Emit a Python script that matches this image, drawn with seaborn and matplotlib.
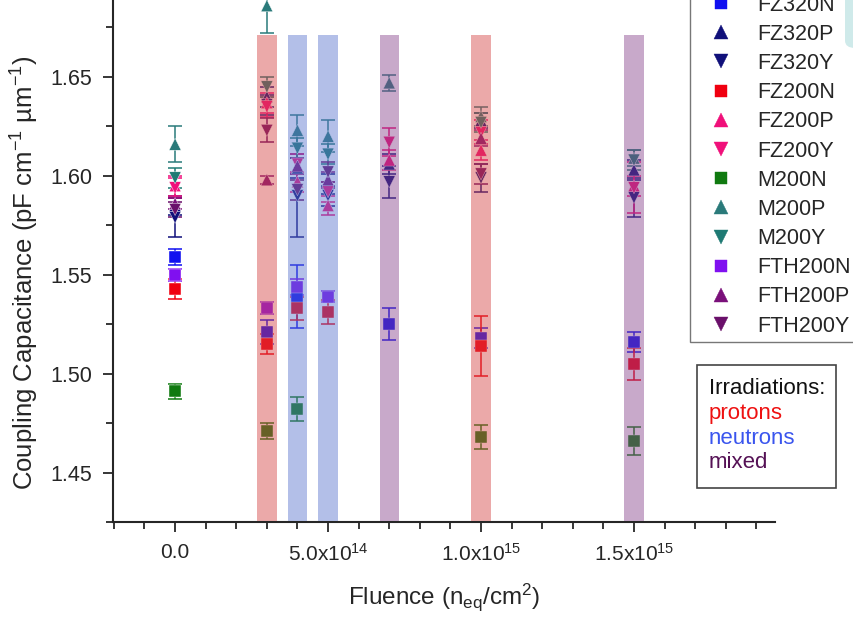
import numpy as np
import pandas as pd
import matplotlib
matplotlib.use("Agg")
import matplotlib.pyplot as plt
from matplotlib.lines import Line2D
from matplotlib.patches import FancyBboxPatch, Rectangle
import seaborn as sns

# ---------------- data ----------------
fluence = [0.0, 3e14, 4e14, 5e14, 7e14, 1e15, 1.5e15]
nan = np.nan

FZ320N = [1.559, 1.521, 1.539, nan, 1.525, 1.518, 1.516]
FZ320P = [1.585, 1.640, 1.604, 1.596, 1.606, 1.628, 1.603]
FZ320Y = [1.579, 1.636, 1.590, 1.590, 1.597, 1.599, 1.589]
FZ200N = [1.543, 1.515, 1.533, 1.531, nan, 1.514, 1.505]
FZ200P = [1.595, 1.637, 1.597, 1.585, 1.608, 1.613, 1.595]
FZ200Y = [1.594, 1.635, 1.606, 1.592, 1.617, 1.622, 1.594]
M200N = [1.491, 1.471, 1.482, nan, nan, 1.468, 1.466]
M200P = [1.616, 1.686, 1.623, 1.620, 1.647, 1.630, 1.609]
M200Y = [1.599, 1.645, 1.614, 1.611, nan, 1.627, 1.608]
FTH200N = [1.550, 1.533, 1.544, 1.539, nan, nan, nan]
FTH200P = [1.586, 1.598, 1.605, 1.598, nan, 1.619, nan]
FTH200Y = [1.583, 1.623, 1.593, 1.602, nan, 1.601, nan]

FZ320N_err = [0.004, 0.006, 0.016, nan, 0.008, 0.005, 0.005]
FZ320P_err = [0.005, 0.005, 0.005, 0.005, 0.005, 0.004, 0.005]
FZ320Y_err = [0.010, 0.005, 0.021, 0.005, 0.008, 0.007, 0.010]
FZ200N_err = [0.005, 0.005, 0.006, 0.006, nan, 0.015, 0.008]
FZ200P_err = [0.005, 0.005, 0.005, 0.005, 0.005, 0.005, 0.005]
FZ200Y_err = [0.005, 0.005, 0.005, 0.005, 0.007, 0.006, 0.013]
M200N_err = [0.004, 0.004, 0.006, nan, nan, 0.006, 0.007]
M200P_err = [0.009, 0.014, 0.008, 0.008, 0.004, 0.005, 0.004]
M200Y_err = [0.005, 0.005, 0.005, 0.005, nan, 0.005, 0.005]
FTH200N_err = [0.003, 0.003, 0.004, 0.003, nan, nan, nan]
FTH200P_err = [0.003, 0.002, 0.004, 0.004, nan, 0.004, nan]
FTH200Y_err = [0.004, 0.006, 0.005, 0.005, nan, 0.005, nan]

samples = ["FZ320N", "FZ320P", "FZ320Y", "FZ200N", "FZ200P", "FZ200Y",
           "M200N", "M200P", "M200Y", "FTH200N", "FTH200P", "FTH200Y"]
values = [FZ320N, FZ320P, FZ320Y, FZ200N, FZ200P, FZ200Y,
          M200N, M200P, M200Y, FTH200N, FTH200P, FTH200Y]
errors = [FZ320N_err, FZ320P_err, FZ320Y_err, FZ200N_err, FZ200P_err, FZ200Y_err,
          M200N_err, M200P_err, M200Y_err, FTH200N_err, FTH200P_err, FTH200Y_err]
colors = ["#1010f0", "#10107a", "#10107a", "#f00010", "#f0107a", "#f0107a",
          "#107a10", "#2a7a7a", "#1f7a74", "#8010f0", "#7a107a", "#6a106a"]
markers = ["s", "^", "v", "s", "^", "v", "s", "^", "v", "s", "^", "v"]

band_fluence = [3e14, 4e14, 5e14, 7e14, 1e15, 1.5e15]
band_type = ["protons", "neutrons", "neutrons", "mixed", "protons", "mixed"]
band_top = 1.671
band_colors = {"protons": "#d34242", "neutrons": "#5873cc", "mixed": "#85428b"}
irr_colors = {"protons": "#ee1111", "neutrons": "#3a55ee", "mixed": "#551155"}

x_ticks = [0.0, 5e14, 1e15, 1.5e15]
x_ticklabels = ["0.0", "5.0x10$^{14}$", "1.0x10$^{15}$", "1.5x10$^{15}$"]
y_ticks = [1.45, 1.50, 1.55, 1.60, 1.65]
y_ticklabels = ["1.45", "1.50", "1.55", "1.60", "1.65"]

# ---------------- build table ----------------
rows = []
for s, v, e in zip(samples, values, errors):
    for f, val, er in zip(fluence, v, e):
        if not np.isnan(val):
            rows.append({"sample": s, "fluence": f, "cap": val, "err": er})
df = pd.DataFrame(rows)

# ---------------- style ----------------
sns.set_style("ticks")
plt.rcParams["font.family"] = ["Liberation Sans", "DejaVu Sans"]
plt.rcParams["mathtext.default"] = "regular"
plt.rcParams["mathtext.fontset"] = "custom"
plt.rcParams["mathtext.rm"] = "Liberation Sans"
plt.rcParams["mathtext.it"] = "Liberation Sans"

fig = plt.figure(figsize=(8.54, 6.2), dpi=100)
ax = fig.add_axes([0.1323, 0.158, 0.7752, 0.842])

ylo, yhi = 1.4253, 1.6889
ax.set_xlim(-2.03e14, 1.961e15)
ax.set_ylim(ylo, yhi)

# error bars
pal = dict(zip(samples, colors))
mk = dict(zip(samples, markers))
for s in samples:
    d = df[df["sample"] == s]
    ax.errorbar(d["fluence"], d["cap"], yerr=d["err"], fmt="none",
                ecolor=pal[s], elinewidth=1.1, capsize=5, capthick=1.1,
                zorder=2, clip_on=False)

# markers via seaborn
sns.scatterplot(data=df, x="fluence", y="cap", hue="sample", style="sample",
                palette=pal, markers=mk, hue_order=samples, style_order=samples,
                s=75, linewidth=0.3, legend=False, ax=ax, zorder=3, clip_on=False)

# irradiation bands (semi-transparent, drawn over points)
ax.bar(band_fluence, band_top - ylo, bottom=ylo, width=0.63e14,
       color=[band_colors[t] for t in band_type], alpha=0.45, zorder=4,
       linewidth=0)

# axes cosmetics
sns.despine(ax=ax, top=True, right=True)
ax.spines["left"].set_linewidth(1.5)
ax.spines["bottom"].set_linewidth(1.5)
ax.set_xticks(x_ticks)
ax.set_xticklabels(x_ticklabels, fontsize=15)
ax.set_yticks(y_ticks)
ax.set_yticklabels(y_ticklabels, fontsize=15.5)
ax.set_xticks(np.arange(-2e14, 1.95e15, 1e14), minor=True)
ax.set_yticks([1.425, 1.475, 1.525, 1.575, 1.625, 1.675], minor=True)
ax.tick_params(axis="both", which="major", length=7, width=1.3, direction="out", pad=8)
ax.tick_params(axis="both", which="minor", length=5, width=1.3, direction="out")
ax.set_xlabel("Fluence (n$_{eq}$/cm$^{2}$)", fontsize=17.5, labelpad=12)
ax.set_ylabel("Coupling Capacitance (pF cm$^{-1}$ µm$^{-1}$)", fontsize=18.5)
ax.yaxis.set_label_coords(-0.108, 0.477)

# sample legend
handles = []
for s, c, m in zip(samples, colors, markers):
    ms = 8 if m == "s" else 10
    handles.append(Line2D([], [], linestyle="none", marker=m, color=c,
                          markersize=ms, markeredgewidth=0.3))
leg = fig.legend(handles, samples, loc="lower left",
                 bbox_to_anchor=(0.808, 0.4484), bbox_transform=fig.transFigure,
                 fontsize=15.5, frameon=True, fancybox=False, labelspacing=0.38,
                 handlelength=2.4, handletextpad=0.47, borderpad=0.25,
                 borderaxespad=0)
leg.get_frame().set_edgecolor("#555555")
leg.get_frame().set_linewidth(1.0)

# irradiations box
fig.patches.append(Rectangle((697 / 854, 1 - 488 / 620), (836 - 697) / 854, (488 - 365) / 620,
                             transform=fig.transFigure, facecolor="white",
                             edgecolor="#444444", linewidth=1.2, zorder=5))
fig.text(709 / 854, 1 - 389 / 620, "Irradiations:", fontsize=16, color="#111111",
         va="center", ha="left", zorder=6)
for i, t in enumerate(["protons", "neutrons", "mixed"]):
    fig.text(709 / 854, 1 - (414 + 24 * i) / 620, t, fontsize=16,
             color=irr_colors[t], va="center", ha="left", zorder=6)

# screenshot artefact in the top-right corner
fig.patches.append(FancyBboxPatch((845 / 854, 1 - 48 / 620), 0.05, 0.12,
                                  boxstyle="round,pad=0,rounding_size=0.012",
                                  transform=fig.transFigure, facecolor="#cfeaea",
                                  edgecolor="none", zorder=10))

fig.savefig("out.png", dpi=100)
